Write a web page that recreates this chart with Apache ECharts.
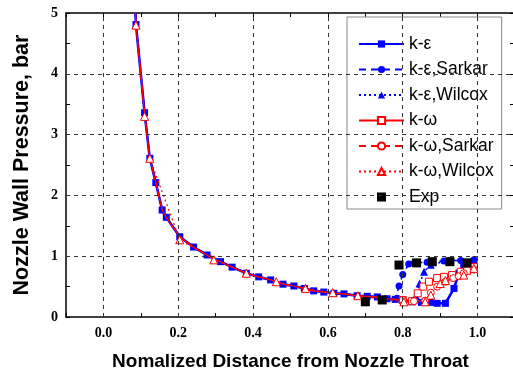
<!DOCTYPE html>
<html>
<head>
<meta charset="utf-8">
<script src="https://cdn.jsdelivr.net/npm/echarts@6/dist/echarts.min.js"></script>
<style>html,body{margin:0;padding:0;background:#fff}#c{width:513px;height:371px}</style>
</head>
<body>
<div id="c"></div>
<script>
// Shared upstream (attached-flow) part
const upX = [0.0855,0.087,0.110,0.124,0.140,0.157,0.168,0.204,0.241,0.277,0.313,0.344,0.382,0.415,0.447,0.480,0.509,0.537,0.562,0.589,0.616,0.643,0.678,0.705,0.732,0.758,0.780];
const upY = [5.00,4.81,3.36,2.61,2.21,1.76,1.64,1.32,1.15,1.02,0.91,0.82,0.72,0.66,0.61,0.54,0.51,0.47,0.43,0.41,0.39,0.38,0.35,0.34,0.33,0.30,0.29];

// Separation-region tails
const keX  = [0.800,0.825,0.850,0.874,0.892,0.914,0.937,0.950,0.963,0.975,0.990];
const keY  = [0.28,0.25,0.24,0.24,0.225,0.225,0.47,0.72,0.88,0.90,0.91];
const keSX = [0.785,0.790,0.800,0.816,0.830,0.865,0.910,0.955,0.990];
const keSY = [0.31,0.51,0.70,0.87,0.89,0.90,0.92,0.93,0.94];
const keWX = [0.800,0.825,0.835,0.845,0.857,0.875,0.923,0.990];
const keWY = [0.28,0.27,0.35,0.55,0.745,0.86,0.93,0.94];
const kwX  = [0.800,0.825,0.840,0.855,0.870,0.892,0.910,0.932,0.955,0.972,0.990];
const kwY  = [0.28,0.26,0.39,0.50,0.58,0.64,0.66,0.69,0.745,0.76,0.82];
const kwSX = [0.800,0.830,0.860,0.875,0.892,0.914,0.935,0.950,0.963,0.990];
const kwSY = [0.28,0.26,0.27,0.40,0.50,0.58,0.64,0.67,0.72,0.78];
// k-omega Wilcox full curve (its own marker positions)
const kwWX = [0.0855,0.087,0.110,0.124,0.204,0.295,0.382,0.462,0.540,0.613,0.680,0.745,0.803,0.860,0.875,0.900,0.914,0.963,0.990];
const kwWY = [5.00,4.80,3.30,2.61,1.27,0.94,0.72,0.58,0.47,0.40,0.35,0.29,0.25,0.25,0.36,0.55,0.60,0.69,0.80];
// Experiment
const expX = [0.700,0.745,0.790,0.837,0.879,0.926,0.972];
const expY = [0.25,0.28,0.855,0.89,0.91,0.91,0.89];

const xTicks = [0.0,0.2,0.4,0.6,0.8,1.0];
const yGrid = [1,2,3,4];

function pts(xs, ys){ return xs.map((x,i)=>[x, ys[i]]); }
function withUp(xs, ys){ return pts(upX, upY).concat(pts(xs, ys)); }
const nUp = upX.length;
const tailOnly = s => (v, p) => p.dataIndex >= nUp ? s : 0;
const skipFirst = s => (v, p) => p.dataIndex === 0 ? 0 : s;

const BLUE = '#0000ff', RED = '#ff0000';
const serifLbl = {fontFamily:'Liberation Serif', fontWeight:'bold', fontSize:14, color:'#000'};

const chart = echarts.init(document.getElementById('c'));
chart.setOption({
  animation: false,
  backgroundColor: '#fff',
  grid: {left: 66, right: -2, top: 13, bottom: 54, outerBoundsMode: 'none', containLabel: false},
  legend: {
    data: ['k-ε','k-ε,Sarkar','k-ε,Wilcox','k-ω','k-ω,Sarkar','k-ω,Wilcox',
      {name: 'Exp', icon: 'path://M0,4.5L0.01,4.5M18,0H27V9H18ZM44.99,4.5L45,4.5'}],
    orient: 'vertical', left: 347, top: 17,
    itemWidth: 45, itemHeight: 9, itemGap: 7.5,
    padding: [18, 8, 3, 11],
    backgroundColor: '#fff', borderColor: '#888', borderWidth: 1,
    textStyle: {fontFamily:'Liberation Sans', fontSize: 17.5, color:'#000', lineHeight: 15}
  },
  xAxis: [{
    type: 'value', min: -0.1, max: 1.1, interval: 0.1,
    name: 'Nomalized Distance from Nozzle Throat', nameLocation: 'middle', nameGap: 35,
    nameTextStyle: {fontFamily:'Liberation Sans', fontWeight:'bold', fontSize:19, color:'#000'},
    axisLine: {show: true, onZero: false, lineStyle: {color:'#000', width: 1.5}},
    axisTick: {show: true, inside: true, length: 4, lineStyle: {color:'#000'}},
    axisLabel: Object.assign({margin: 9, formatter: v => (Math.round(v*10) % 2 === 0 ? v.toFixed(1) : '')}, serifLbl),
    splitLine: {show: false}
  },{
    type: 'value', position: 'top', min: -0.1, max: 1.1, interval: 0.1,
    axisLine: {show: true, onZero: false, lineStyle: {color:'#000', width: 1.5}},
    axisTick: {show: true, inside: true, length: 4, lineStyle: {color:'#000'}},
    axisLabel: {show: false}, splitLine: {show: false}
  }],
  yAxis: [{
    type: 'value', min: 0, max: 5, interval: 1,
    name: 'Nozzle Wall Pressure, bar', nameLocation: 'middle', nameGap: 33,
    nameTextStyle: {fontFamily:'Liberation Sans', fontWeight:'bold', fontSize:21.5, color:'#000'},
    axisLine: {show: true, onZero: false, lineStyle: {color:'#000', width: 1.5}},
    axisTick: {show: true, inside: true, length: 4, lineStyle: {color:'#000'}},
    minorTick: {show: true, splitNumber: 2, length: 4, lineStyle: {color:'#000'}},
    axisLabel: Object.assign({margin: 8}, serifLbl),
    splitLine: {show: false}
  },{
    type: 'value', position: 'right', min: 0, max: 5, interval: 1,
    axisLine: {show: true, onZero: false, lineStyle: {color:'#000', width: 1.5}},
    axisTick: {show: true, inside: true, length: 5, lineStyle: {color:'#000'}},
    minorTick: {show: true, splitNumber: 2, length: 5, lineStyle: {color:'#000'}},
    axisLabel: {show: false}, splitLine: {show: false}
  }],
  series: [
    {
      type: 'line', name: 'grid', data: [], silent: true, z: 1,
      markLine: {
        silent: true, symbol: 'none', label: {show: false}, animation: false,
        lineStyle: {color: '#333', type: [4, 4], width: 1},
        data: xTicks.map(v => ({xAxis: v})).concat(yGrid.map(v => ({yAxis: v})))
      }
    },
    {
      type: 'line', name: 'k-ε', data: withUp(keX, keY), z: 3,
      symbol: 'rect', symbolSize: skipFirst(7),
      lineStyle: {color: BLUE, width: 2.6}, itemStyle: {color: BLUE}
    },
    {
      type: 'line', name: 'k-ε,Sarkar', data: withUp(keSX, keSY), z: 3,
      symbol: 'circle', symbolSize: tailOnly(7),
      lineStyle: {color: BLUE, width: 1.6, type: [7, 5]}, itemStyle: {color: BLUE}
    },
    {
      type: 'line', name: 'k-ε,Wilcox', data: withUp(keWX, keWY), z: 3,
      symbol: 'triangle', symbolSize: tailOnly(8),
      lineStyle: {color: BLUE, width: 1.6, type: [2, 3]}, itemStyle: {color: BLUE}
    },
    {
      type: 'line', name: 'k-ω', data: withUp(kwX, kwY), z: 4,
      symbol: 'rect', symbolSize: tailOnly(7),
      lineStyle: {color: RED, width: 1.2}, itemStyle: {color: '#fff', borderColor: RED, borderWidth: 1}
    },
    {
      type: 'line', name: 'k-ω,Sarkar', data: withUp(kwSX, kwSY), z: 4,
      symbol: 'circle', symbolSize: tailOnly(7),
      lineStyle: {color: RED, width: 1.2, type: [7, 5]}, itemStyle: {color: '#fff', borderColor: RED, borderWidth: 1}
    },
    {
      type: 'line', name: 'k-ω,Wilcox', data: pts(kwWX, kwWY), z: 4,
      symbol: 'triangle', symbolSize: skipFirst(8),
      lineStyle: {color: RED, width: 1.2, type: [2, 3]}, itemStyle: {color: '#fff', borderColor: RED, borderWidth: 1}
    },
    {
      type: 'scatter', name: 'Exp', data: pts(expX, expY), z: 5,
      symbol: 'rect', symbolSize: 9, itemStyle: {color: '#000', opacity: 1}
    }
  ]
});
</script>
</body>
</html>
